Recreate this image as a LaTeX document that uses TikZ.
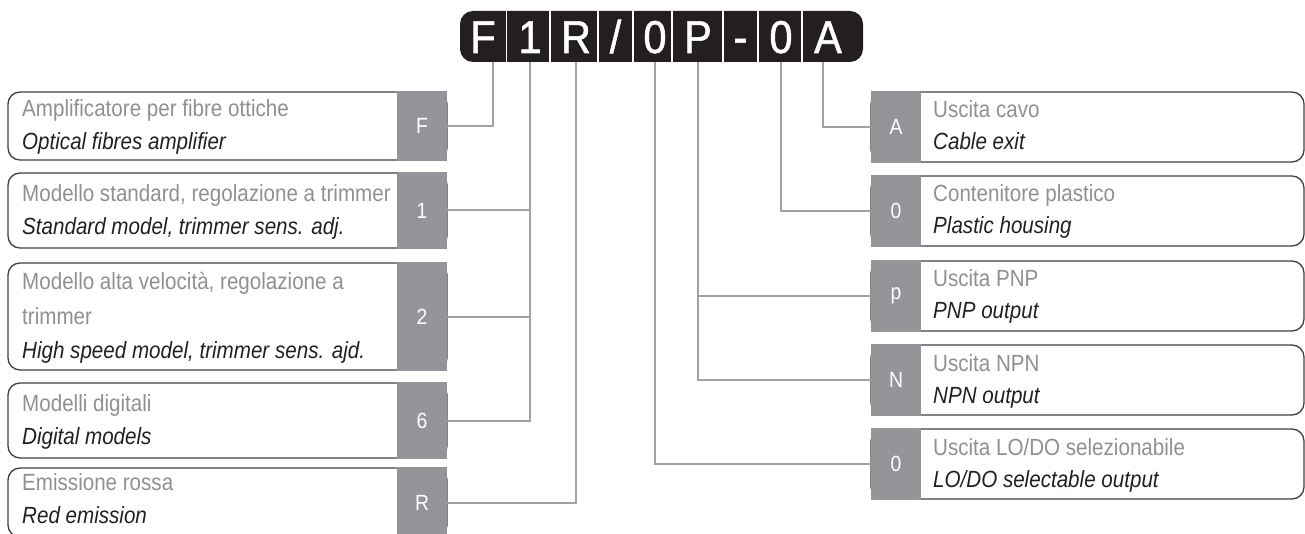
\documentclass[tikz,border=0pt]{standalone}
\usepackage{fontspec}
\setmainfont{Liberation Sans}[FakeStretch=0.88]
\newfontfamily\codefont{Liberation Sans}[FakeStretch=0.9,FakeBold=1.2]
\definecolor{ink}{HTML}{231F20}
\definecolor{keyfill}{HTML}{939598}
\definecolor{wiregray}{HTML}{A0A2A5}
\definecolor{itgray}{HTML}{8E9093}
\definecolor{frame}{HTML}{404040}
\newcommand{\Txt}{\fontsize{23.4}{34}\selectfont}
\newcommand{\Code}{\codefont\fontsize{46}{50}\selectfont}
\newcommand{\Key}{\fontsize{22}{24}\selectfont}

\begin{document}
\begin{tikzpicture}[x=1pt,y=-1pt,
    cell/.style={text=white,font=\Code,inner sep=0pt,minimum height=51pt,text height=33pt,text depth=0pt},
    lbox/.style={draw=frame,line width=1.3pt,rounded corners=12pt,minimum width=439pt,inner sep=0pt},
    rbox/.style={draw=frame,line width=1.3pt,rounded corners=12pt,minimum width=433pt,minimum height=70pt,inner sep=0pt},
    keybox/.style={fill=keyfill,text=white,font=\Key,minimum width=50pt,inner sep=0pt},
    itline/.style={anchor=base west,inner sep=0pt,text=itgray,font=\Txt},
    enline/.style={anchor=base west,inner sep=0pt,text=ink,font=\Txt\itshape},
    link/.style={draw=wiregray,line width=2pt}]
  \useasboundingbox (0,0) rectangle (1305,534);
  \clip (0,0) rectangle (1305,534);
  % code bar
  \fill[ink,rounded corners=13pt] (460,11) rectangle (863,62);
  \foreach \sx in {506.5,550,598,633,672,723,758,802}
    \draw[white,line width=1.6pt] (\sx,11) -- (\sx,62);
  \foreach \nm/\cx/\ch in {F/483/F, 1/530/1, R/576/R, S/615.5/{/}, O/655/0, P/698/P, D/740.5/-, H/781/0, A/828/A}
    \node[cell] (c\nm) at (\cx,36.5) {\ch};
  % left column
  \foreach \n/\ytop/\ybot in {F/92/160, 1/173/248, 2/263/370, 6/383/458, R/468/537}{
    \node[lbox,minimum height={\ybot-\ytop}] (bL\n) at (227.5,{(\ytop+\ybot)/2}) {};
    \node[keybox,minimum height={\ybot-\ytop+2}] (kL\n) at (422,{(\ytop+\ybot)/2}) {\n};}
  \foreach \n/\yc/\ita/\eng in {F/126/{Amplificatore per fibre ottiche}/{Optical fibres amplifier},
      1/210.5/{Modello standard, regolazione a trimmer}/{Standard model, trimmer sens. adj.},
      6/420.5/{Modelli digitali}/{Digital models}, R/499/{Emissione rossa}/{Red emission}}{
    \node[itline] (iL\n) at (22,\yc-9) {\ita};
    \node[enline] (eL\n) at (22,\yc+24) {\eng};}
  \node[itline] (iL2a) at (22,290) {Modello alta velocità, regolazione a};
  \node[itline] (iL2b) at (22,324) {trimmer};
  \node[enline] (eL2) at (22,358) {High speed model, trimmer sens. ajd.};
  % right column
  \foreach \n/\k/\ytop/\ita/\eng in {A/A/92/{Uscita cavo}/{Cable exit}, H/0/176/{Contenitore plastico}/{Plastic housing},
      P/p/261/{Uscita PNP}/{PNP output}, N/N/345/{Uscita NPN}/{NPN output},
      L/0/429/{Uscita LO/DO selezionabile}/{LO/DO selectable output}}{
    \node[rbox] (bR\n) at (1087.5,\ytop+35) {};
    \node[keybox,minimum height=72pt] (kR\n) at (896,\ytop+35) {\k};
    \node[itline] (iR\n) at (933,\ytop+26) {\ita};
    \node[enline] (eR\n) at (933,\ytop+58) {\eng};}
  % links
  \draw[link] ([xshift=10pt]cF.south) |- (kLF.east);
  \draw[link] (c1.south) |- (kL6.east);
  \foreach \n in {1,2} \draw[link] (kL\n.east) -- (kL\n.east -| c1.south);
  \draw[link] (cR.south) |- (kLR.east);
  \draw[link] (cO.south) |- (kRL.west);
  \draw[link] (cP.south) |- (kRN.west);
  \draw[link] (kRP.west) -- (kRP.west -| cP.south);
  \draw[link] (cH.south) |- (kRH.west);
  \draw[link] ([xshift=-5pt]cA.south) |- (kRA.west);
\end{tikzpicture}
\end{document}
